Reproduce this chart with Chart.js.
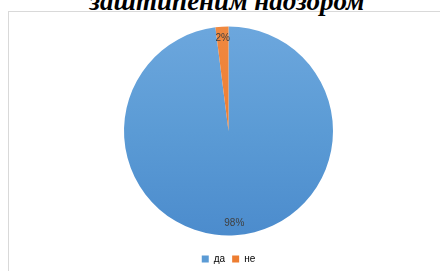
<!DOCTYPE html>
<html>
<head>
<meta charset="utf-8">
<script src="https://cdn.jsdelivr.net/npm/chart.js@4"></script>
<style>
    html, body { margin: 0; padding: 0; background: #fff; overflow: hidden; }
    #wrap { position: relative; width: 440px; height: 271px; overflow: hidden; }
    #title {
        position: absolute; left: 7px; width: 440px; top: -12px; line-height: 26px;
        text-align: center; font-family: 'Liberation Serif', serif;
        font-weight: bold; font-style: italic; font-size: 27px; color: #000;
        white-space: nowrap;
    }
    #frame {
        position: absolute; left: 8px; top: 11px; width: 440px; height: 270px;
        border: 1px solid #d9d9d9; box-sizing: border-box;
    }
    #chartBox { position: absolute; left: 0; top: 0; width: 440px; height: 271px; }
</style>
</head>
<body>
<div id="wrap">
    <div id="frame"></div>
    <div id="title">заштићеним надзором</div>
    <div id="chartBox"><canvas id="pieChart"></canvas></div>
</div>
<script>
var labels = ['да', 'не'];
var values = [98, 2];
var percentLabels = ['98%', '2%'];
var colors = ['#5b9bd5', '#ed7d31'];
var topColors = ['#6ea8de', '#f08a42'];
var bottomColors = ['#4a8acc', '#e06f25'];

// labels near the outer edge of each slice
var sliceLabels = {
    id: 'sliceLabels',
    afterDatasetsDraw: function (chart) {
        var ctx = chart.ctx;
        var meta = chart.getDatasetMeta(0);
        ctx.save();
        ctx.font = '10px "Liberation Sans", Arial, sans-serif';
        ctx.fillStyle = '#404040';
        ctx.textAlign = 'center';
        ctx.textBaseline = 'middle';
        meta.data.forEach(function (arc, i) {
            var mid = (arc.startAngle + arc.endAngle) / 2;
            var d = arc.outerRadius - 12;
            ctx.fillText(percentLabels[i], arc.x + Math.cos(mid) * d, arc.y + Math.sin(mid) * d);
        });
        ctx.restore();
    }
};

function shade(context) {
    var chart = context.chart;
    var area = chart.chartArea;
    var i = context.dataIndex;
    if (!area) {
        return colors[i];
    }
    var g = chart.ctx.createLinearGradient(0, area.top, 0, area.bottom);
    g.addColorStop(0, topColors[i]);
    g.addColorStop(0.5, colors[i]);
    g.addColorStop(1, bottomColors[i]);
    return g;
}

var pieChart = new Chart(document.getElementById('pieChart'), {
    type: 'pie',
    data: {
        labels: labels,
        datasets: [{
            data: values,
            backgroundColor: shade,
            borderWidth: 0
        }]
    },
    options: {
        responsive: true,
        maintainAspectRatio: false,
        animation: false,
        layout: { padding: { top: 15, bottom: -3, left: 124, right: 107 } },
        plugins: {
            tooltip: { enabled: false },
            legend: {
                position: 'bottom',
                labels: {
                    boxWidth: 7,
                    boxHeight: 7,
                    padding: 7,
                    color: '#595959',
                    font: { size: 10, family: '"Liberation Sans", Arial, sans-serif' },
                    generateLabels: function (chart) {
                        return labels.map(function (l, i) {
                            return { text: l, fillStyle: colors[i], strokeStyle: colors[i], lineWidth: 0, index: i };
                        });
                    }
                }
            }
        }
    },
    plugins: [sliceLabels]
});
</script>
</body>
</html>
